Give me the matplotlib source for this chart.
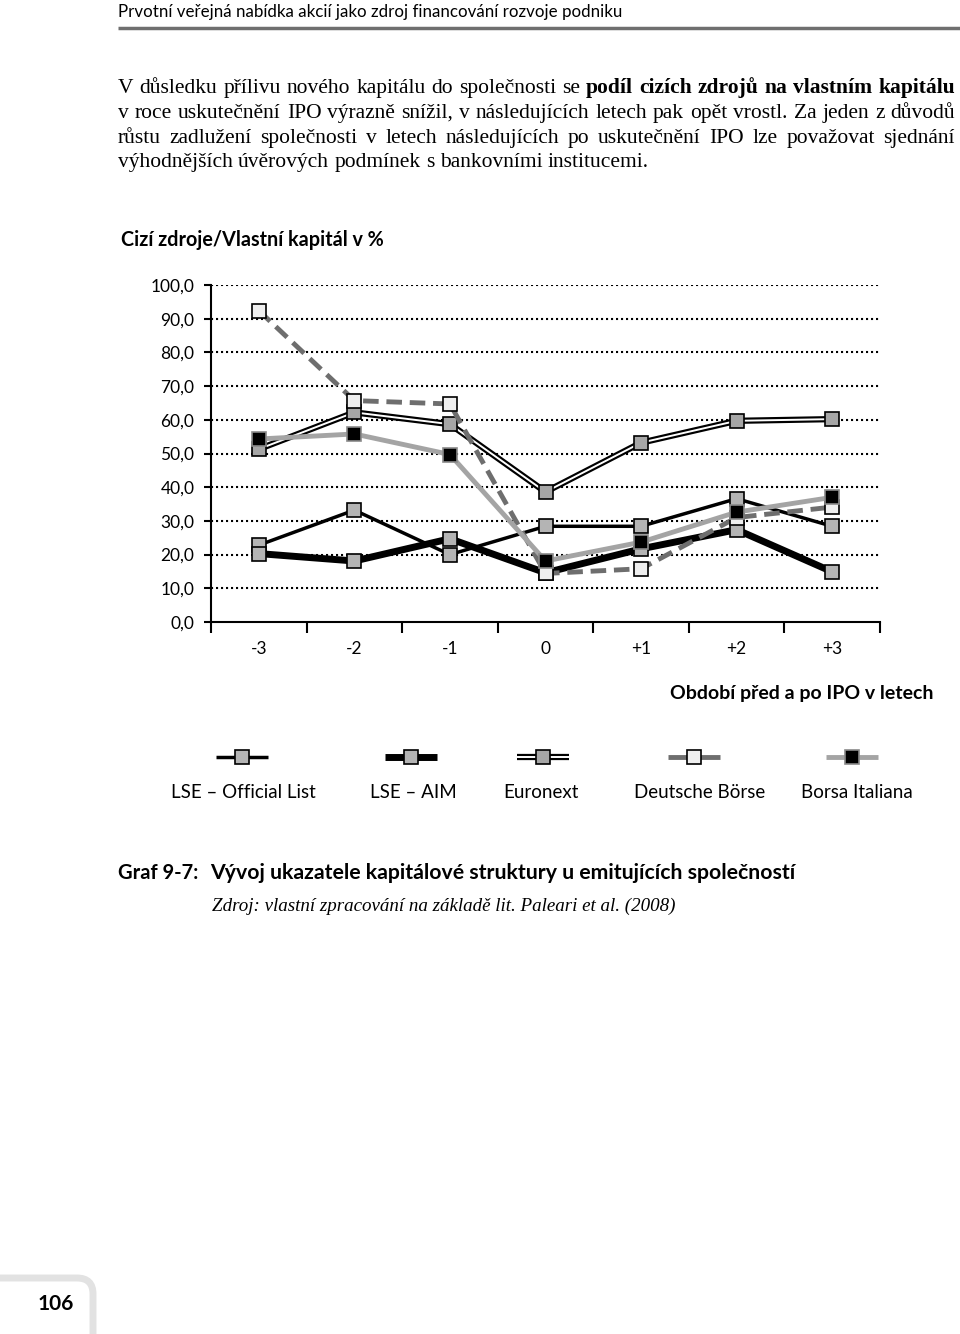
import matplotlib
matplotlib.use("Agg")
import matplotlib.pyplot as plt
from matplotlib.patches import FancyBboxPatch

# data
years = ["-3", "-2", "-1", "0", "+1", "+2", "+3"]
lse_official = [22.8, 33.2, 20.0, 28.4, 28.4, 36.6, 28.4]
lse_aim = [20.3, 18.1, 24.7, 14.6, 21.7, 27.4, 14.9]
euronext = [51.3, 62.2, 58.7, 38.6, 53.2, 59.7, 60.2]
deutsche = [92.4, 65.7, 64.7, 14.4, 15.8, 31.0, 34.1]
borsa = [54.3, 55.8, 49.7, 18.1, 23.7, 32.6, 37.0]
y_ticks = [0, 10, 20, 30, 40, 50, 60, 70, 80, 90, 100]
legend_names = ["LSE \u2013 Official List", "LSE \u2013 AIM", "Euronext", "Deutsche B\u00f6rse", "Borsa Italiana"]

SANS = ["Lato", "DejaVu Sans"]
SERIF = ["Liberation Serif", "DejaVu Serif"]
BODY = 15.5

W, H = 960, 1334
fig = plt.figure(figsize=(W / 100, H / 100), dpi=100)

# page layer in pixel coordinates
page = fig.add_axes([0, 0, 1, 1])
page.set_xlim(0, W)
page.set_ylim(H, 0)
page.axis("off")

page.text(118, 12, "Prvotní veřejná nabídka akcií jako zdroj financování rozvoje podniku",
          fontsize=12.2, family=SANS, va="center", ha="left")
page.plot([118, W], [28, 28], color="#6f6f6f", lw=2.5, solid_capstyle="butt")

renderer = fig.canvas.get_renderer()


def width_of(s, **kw):
    t = page.text(0, 0, s, **kw)
    w = t.get_window_extent(renderer).width
    t.remove()
    return w


space = width_of("a a", fontsize=BODY, family=SERIF) - width_of("aa", fontsize=BODY, family=SERIF)


def justified(words, y, x0, x1, justify=True):
    """words: list of (text, weight); spread them over x0..x1, y is the baseline."""
    items = [page.text(0, y, w, fontsize=BODY, family=SERIF, weight=wt, va="baseline")
             for w, wt in words]
    widths = [t.get_window_extent(renderer).width for t in items]
    gap = (x1 - x0 - sum(widths)) / (len(items) - 1) if justify else space
    x = x0
    for t, w in zip(items, widths):
        t.set_x(x)
        x += w + gap


def words_of(s, wt="normal"):
    return [(w, wt) for w in s.split()]


line1 = words_of("V důsledku přílivu nového kapitálu do společnosti se") + \
    words_of("podíl cizích zdrojů na vlastním kapitálu", "bold")
justified(line1, 93, 118, 955)
justified(words_of("v roce uskutečnění IPO výrazně snížil, v následujících letech pak opět vrostl. Za jeden z důvodů"),
          118, 118, 955)
justified(words_of("růstu zadlužení společnosti v letech následujících po uskutečnění IPO lze považovat sjednání"),
          143, 118, 955)
justified(words_of("výhodnějších úvěrových podmínek s bankovními institucemi."), 167, 118, 955, justify=False)

page.text(121, 240, "Cizí zdroje/Vlastní kapitál v %", fontsize=14.2, weight="bold", family=SANS, va="center")
page.text(934, 693, "Období před a po IPO v letech", fontsize=14, weight="bold", family=SANS,
          va="center", ha="right")

# chart
ax = fig.add_axes([211 / W, 1 - 622 / H, 669 / W, 337 / H])
x = [i + 0.5 for i in range(len(years))]

mk = dict(marker="s", markersize=9.5, markeredgewidth=1.2)
ax.plot(x, euronext, color="black", lw=4.5, zorder=3)
ax.plot(x, euronext, color="white", lw=1.4, zorder=3.1)
ax.plot(x, euronext, ls="none", mfc="#a6a6a6", mec="black", zorder=3.2, **mk)
ax.plot(x, lse_official, color="black", lw=2.5, mfc="#b4b4b4", mec="black", zorder=4, **mk)
ax.plot(x, lse_aim, color="black", lw=5, mfc="#b4b4b4", mec="black", zorder=5, **mk)
ax.plot(x, deutsche, color="#6e6e6e", lw=3.5, ls=(0, (3.2, 1.6)), mfc="#efefef", mec="black", zorder=6, **mk)
ax.plot(x, borsa, color="#a4a4a4", lw=3.5, mfc="black", mec="#8a8a8a", zorder=7, **mk)

ax.set_xlim(0, len(years))
ax.set_ylim(0, 100)
ax.set_yticks(y_ticks)
ax.set_yticklabels([f"{v:.1f}".replace(".", ",") for v in y_ticks], family=SANS, fontsize=12.5)
ax.set_xticks(range(len(years) + 1))
ax.set_xticklabels([])
ax.set_xticks(x, minor=True)
ax.set_xticklabels(years, minor=True, family=SANS, fontsize=12.5)
ax.tick_params(axis="x", which="minor", length=0, pad=14)
ax.tick_params(axis="x", which="major", length=8, width=1.5, direction="out")
ax.tick_params(axis="y", length=5, width=1.5, direction="out", pad=7)
for side in ("top", "right"):
    ax.spines[side].set_visible(False)
for side in ("left", "bottom"):
    ax.spines[side].set_linewidth(1.5)
for v in y_ticks[1:]:
    ax.axhline(v, color="black", lw=1.5, ls=(0, (1, 1.4)), zorder=1)

# legend drawn by hand
sample_x = [242, 411, 543, 694, 852]
label_x = [243, 413, 541, 700, 857]
styles = [
    dict(color="black", lw=2.5, mfc="#b4b4b4", mec="black"),
    dict(color="black", lw=5, mfc="#b4b4b4", mec="black"),
    None,
    dict(color="#6e6e6e", lw=3.5, mfc="#efefef", mec="black"),
    dict(color="#a4a4a4", lw=3.5, mfc="black", mec="#8a8a8a"),
]
for sx, lx, name, st in zip(sample_x, label_x, legend_names, styles):
    xs = [sx - 26, sx + 26]
    if st is None:
        page.plot(xs, [757, 757], color="black", lw=4.5, solid_capstyle="butt")
        page.plot(xs, [757, 757], color="white", lw=1.4, solid_capstyle="butt")
        page.plot([sx], [757], ls="none", mfc="#a6a6a6", mec="black", **mk)
    else:
        page.plot(xs, [757, 757], solid_capstyle="butt", color=st["color"], lw=st["lw"])
        page.plot([sx], [757], ls="none", mfc=st["mfc"], mec=st["mec"], **mk)
    page.text(lx, 793, name, fontsize=13.5, family=SANS, ha="center", va="center")

# caption
page.text(118, 873, "Graf 9-7:", fontsize=14.5, weight="bold", family=SANS, va="center")
page.text(210, 873, "Vývoj ukazatele kapitálové struktury u emitujících společností",
          fontsize=15.3, weight="bold", family=SANS, va="center")
page.text(212, 906, "Zdroj: vlastní zpracování na základě lit. Paleari et al. (2008)",
          fontsize=13.7, style="italic", family=SERIF, va="center")

# page number tab
page.add_patch(FancyBboxPatch((-30, 1278), 123, 80, boxstyle="round,pad=0,rounding_size=16",
                              fc="white", ec="#e2e2e2", lw=5))
page.text(56, 1304, "106", fontsize=15, weight="bold", family=SANS, ha="center", va="center")

fig.savefig("out.png", dpi=100)
